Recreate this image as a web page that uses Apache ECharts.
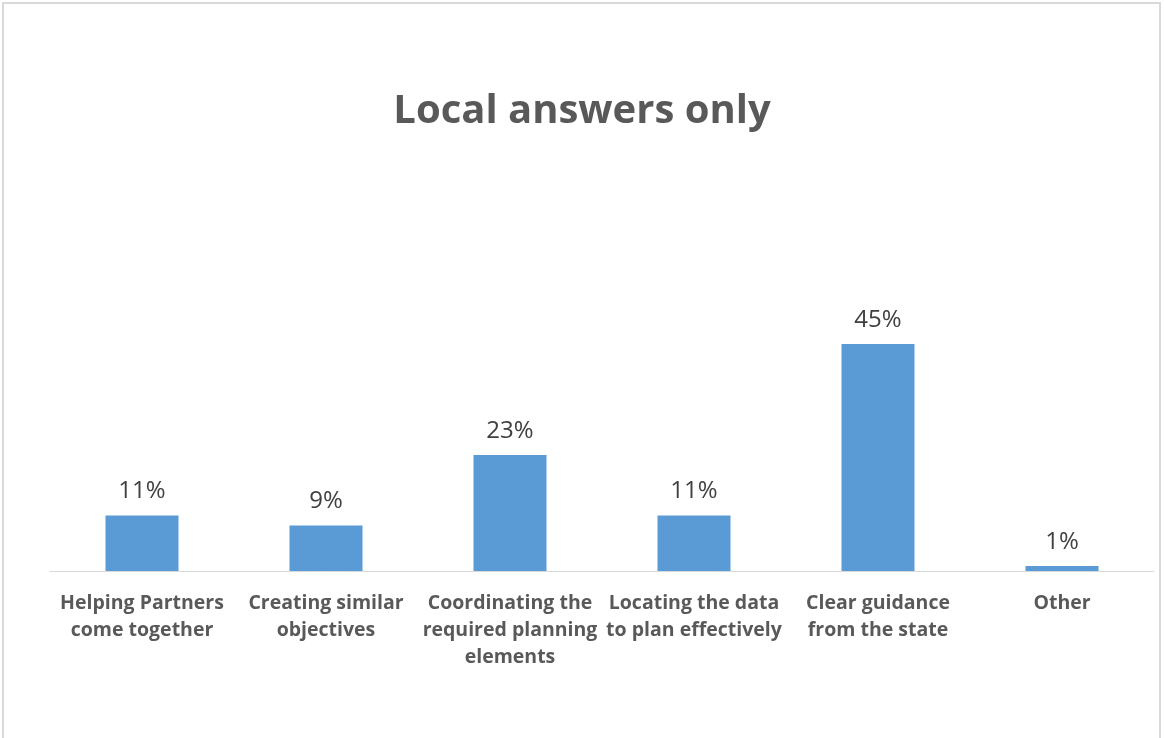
<!DOCTYPE html>
<html>
<head>
<meta charset="utf-8">
<script src="https://cdn.jsdelivr.net/npm/echarts@6/dist/echarts.min.js"></script>
<style>
    html, body { margin: 0; padding: 0; background: #fff; }
    #chart { width: 1164px; height: 738px; }
</style>
</head>
<body>
<div id="chart"></div>
<script>
    // 类别和数值
    var categories = [
        'Helping Partners\ncome together',
        'Creating similar\nobjectives',
        'Coordinating the\nrequired planning\nelements',
        'Locating the data\nto plan effectively',
        'Clear guidance\nfrom the state',
        'Other'
    ];
    var shares = [11, 9, 23, 11, 45, 1];

    var myChart = echarts.init(document.getElementById('chart'));

    var option = {
        backgroundColor: '#fff',
        title: {
            text: 'Local answers only',
            left: 'center',
            top: 87,
            textStyle: {
                fontFamily: 'Open Sans',
                fontSize: 40,
                fontWeight: 'bold',
                color: '#595959'
            }
        },
        graphic: [
            {
                type: 'rect',
                shape: { x: 3, y: 3, width: 1157, height: 740 },
                style: { fill: 'none', stroke: '#d9d9d9', lineWidth: 2 },
                silent: true
            }
        ],
        grid: {
            left: 50,
            right: 10,
            top: 344,   // 45% 柱顶
            bottom: 167
        },
        xAxis: {
            type: 'category',
            data: categories,
            axisLine: { show: true, lineStyle: { color: '#d9d9d9', width: 1 } },
            axisTick: { show: false },
            axisLabel: {
                interval: 0,
                margin: 19,
                fontFamily: 'Open Sans',
                fontSize: 19.5,
                fontWeight: 'bold',
                lineHeight: 27,
                color: '#595959'
            }
        },
        yAxis: {
            type: 'value',
            min: 0,
            max: 45,
            show: false,
            splitLine: { show: false }
        },
        series: [
            {
                type: 'bar',
                data: shares,
                barWidth: 73,
                itemStyle: { color: '#5b9bd5' },
                label: {
                    show: true,
                    position: 'top',
                    distance: 12,
                    formatter: '{c}%',
                    fontFamily: 'Open Sans',
                    fontSize: 24,
                    color: '#404040'
                }
            }
        ]
    };

    myChart.setOption(option);
</script>
</body>
</html>
